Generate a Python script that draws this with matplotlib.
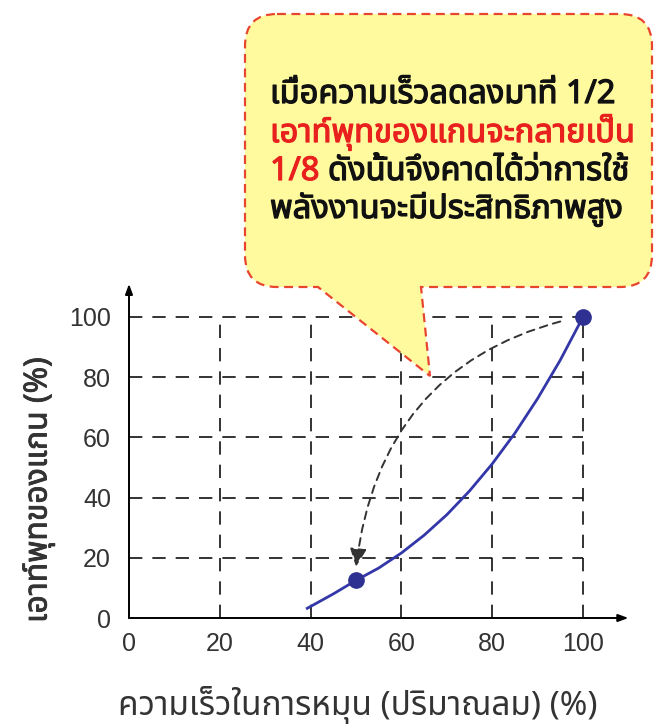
import matplotlib
matplotlib.use('Agg')
import matplotlib.pyplot as plt
import matplotlib.patheffects as pe
from matplotlib import font_manager
from matplotlib.ft2font import FT2Font
from matplotlib.path import Path
from matplotlib.patches import PathPatch, FancyArrowPatch

# fan speed vs shaft output (cube law)
speed = [39, 45, 50, 55, 60, 65, 70, 75, 80, 85, 90, 95, 100]
output = [3.0, 8.0, 12.5, 16.6, 21.6, 27.5, 34.3, 42.2, 51.2, 61.4, 72.9, 85.7, 100]
marked_speed = [50, 100]
marked_output = [12.5, 100]
ticks = [0, 20, 40, 60, 80, 100]

x_label = "ความเร็วในการหมุน (ปริมาณลม) (%)"
y_label = "เอาท์พุทของแกน (%)"
note_lines = [
    [("เมื่อความเร็วลดลงมาที่ 1/2", 'black')],
    [("เอาท์พุทของแกนจะกลายเป็น", 'red')],
    [("1/8", 'red'), (" ดังนั้นจึงคาดได้ว่าการใช้", 'black')],
    [("พลังงานจะมีประสิทธิภาพสูง", 'black')],
]

W, H = 655, 727


def thai_family():
    preferred = ['Noto Sans Thai', 'Loma', 'Garuda', 'Tlwg Typo', 'Sarabun', 'Kinnari', 'Norasi']
    found = []
    for f in font_manager.fontManager.ttflist:
        try:
            if 0x0E01 in FT2Font(f.fname).get_charmap():
                found.append(f.name)
        except Exception:
            pass
    for name in preferred:
        if name in found:
            return name
    return found[0] if found else 'DejaVu Sans'


def px(x, y):
    return (x / W, 1 - y / H)


thai = thai_family()
plt.rcParams['font.family'] = [thai, 'DejaVu Sans']

fig = plt.figure(figsize=(W / 100, H / 100), dpi=100)
x0, y0 = 129, 618
sx, sy = 4.54, 3.01
ax = fig.add_axes([x0 / W, (H - y0) / H, 110 * sx / W, 111 * sy / H])
ax.set_xlim(0, 110)
ax.set_ylim(0, 111)
for s in ax.spines.values():
    s.set_visible(False)

# dashed grid inside the 0-100 box
for t in ticks[1:]:
    ax.plot([t, t], [0, 100], color='#111111', lw=1.2, dashes=[8, 6], zorder=1)
    ax.plot([0, 100], [t, t], color='#111111', lw=1.2, dashes=[8, 6], zorder=1)

# axes with arrow heads
arrow_kw = dict(arrowstyle='-|>,head_length=0.6,head_width=0.22', color='black',
                lw=1.4, shrinkA=0, shrinkB=0)
ax.annotate('', xy=(110, 0), xytext=(0, 0), arrowprops=arrow_kw, annotation_clip=False)
ax.annotate('', xy=(0, 111), xytext=(0, 0), arrowprops=arrow_kw, annotation_clip=False)

ax.plot(speed, output, color='#3337a8', lw=2.0, zorder=3, solid_capstyle='butt')
ax.plot(marked_speed, marked_output, 'o', color='#2e3192', ms=11, zorder=4)

ax.set_xticks(ticks)
ax.set_yticks(ticks)
ax.tick_params(length=0, labelsize=18, labelcolor='#333333')
ax.tick_params(axis='x', pad=10)
ax.tick_params(axis='y', pad=13)
for lab in ax.get_xticklabels() + ax.get_yticklabels():
    lab.set_fontfamily(['Liberation Sans', 'DejaVu Sans'])

fig.text(*px(358, 715), x_label, ha='center', va='baseline', fontsize=24, color='#333333')
fig.text(*px(38, 490), y_label, ha='center', va='center', rotation=90, fontsize=23,
         color='#333333', path_effects=[pe.withStroke(linewidth=0.6, foreground='#333333')])

# speech balloon
L, T, R, B = 245, 14, 652, 287
r = 32
tail = [(421, B), (430, 376), (318, B)]
verts = [px(L + r, T), px(R - r, T), px(R, T), px(R, T + r), px(R, B - r), px(R, B), px(R - r, B)]
codes = [Path.MOVETO, Path.LINETO, Path.CURVE3, Path.CURVE3, Path.LINETO, Path.CURVE3, Path.CURVE3]
for p in tail:
    verts.append(px(*p))
    codes.append(Path.LINETO)
verts += [px(L + r, B), px(L, B), px(L, B - r), px(L, T + r), px(L, T), px(L + r, T), px(L + r, T)]
codes += [Path.LINETO, Path.CURVE3, Path.CURVE3, Path.LINETO, Path.CURVE3, Path.CURVE3, Path.CLOSEPOLY]
balloon = PathPatch(Path(verts, codes), transform=fig.transFigure, facecolor='#fffa9e',
                    edgecolor='#e8452f', lw=1.6, linestyle=(0, (4, 2.5)), zorder=4)
fig.add_artist(balloon)

baselines = [103, 142, 180, 218]
fig.canvas.draw()
renderer = fig.canvas.get_renderer()
for parts, yb in zip(note_lines, baselines):
    x = 270
    for s, c in parts:
        col = '#e8201e' if c == 'red' else '#111111'
        t = fig.text(*px(x, yb), s, ha='left', va='baseline', fontsize=23.5, color=col, zorder=6,
                     path_effects=[pe.withStroke(linewidth=0.9, foreground=col)])
        x = t.get_window_extent(renderer).x1

# dashed arc from full speed down to half speed
arc = FancyArrowPatch(posA=(95, 98.5), posB=(50, 17), transform=ax.transData,
                      connectionstyle='angle3,angleA=15,angleB=83',
                      arrowstyle='-|>,head_length=1.1,head_width=0.5', mutation_scale=10,
                      color='#333333', lw=1.4, linestyle=(0, (4, 3)),
                      shrinkA=0, shrinkB=0, zorder=7)
fig.add_artist(arc)

fig.savefig('out.png', dpi=100)
